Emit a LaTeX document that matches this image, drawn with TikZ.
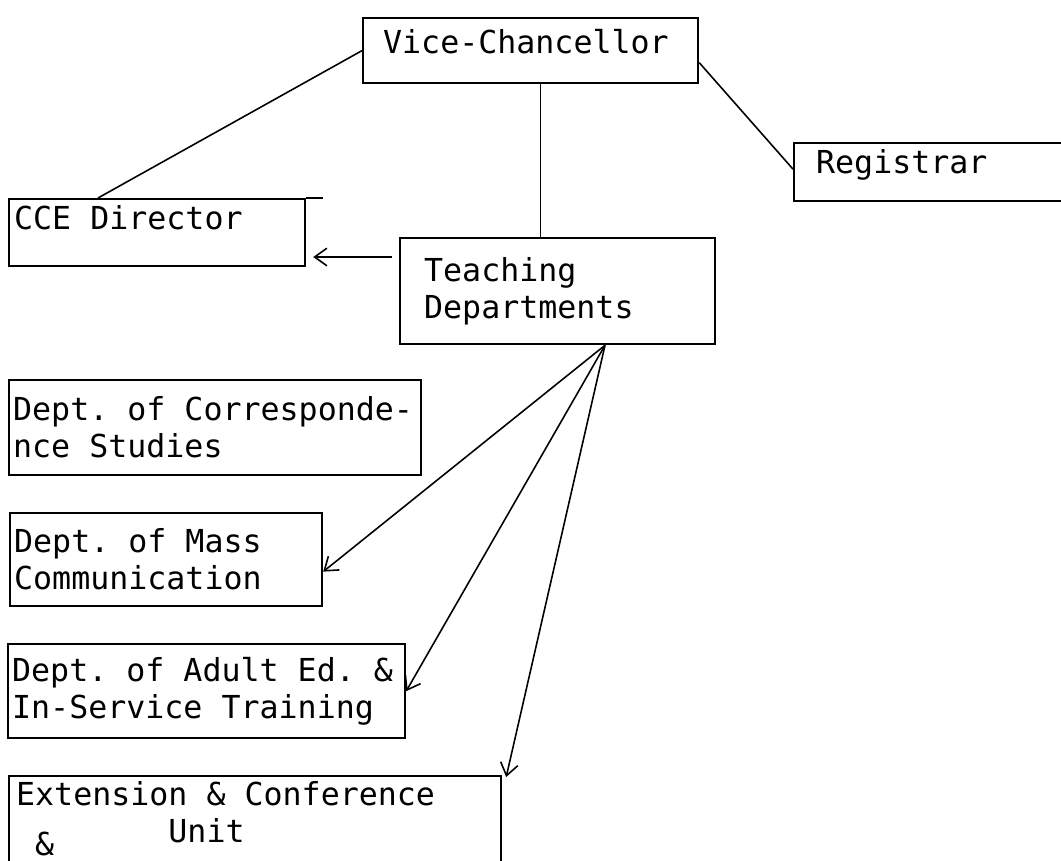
\documentclass[tikz,border=0pt]{standalone}
\usepackage{fontspec}
\setmonofont{DejaVu Sans Mono}
\usepackage{tikz}
\usetikzlibrary{arrows.meta,calc}
\protected\def\unitfont{\ttfamily\fontsize{18}{21}\selectfont}

\begin{document}
\begin{tikzpicture}[x=0.02cm,y=-0.02cm,
		unitbox/.style={draw,line width=1.3pt,anchor=north west,align=flush left,inner ysep=0pt,
			font=\unitfont},
		link/.style={line width=0.9pt},
		flow/.style={line width=0.9pt,-{Straight Barb[length=7pt,width=10pt]}}]
	\useasboundingbox (0,0) rectangle (1061,861);
	\node[unitbox,inner xsep=0.4cm,text width=5.9cm,minimum height=1.3cm,text depth=0.36cm]
		(vc) at (362,17) {Vice-Chancellor};
	\node[unitbox,inner xsep=0.44cm,text width=5.86cm,minimum height=1.16cm,text depth=0.44cm]
		(reg) at (793,142) {Registrar};
	\node[unitbox,inner xsep=0.1cm,text width=5.72cm,minimum height=1.34cm,text depth=0.62cm]
		(cce) at (8,198) {CCE Director};
	\node[unitbox,inner xsep=0.48cm,text width=5.34cm,minimum height=2.12cm]
		(td) at (399,237) {Teaching\\Departments};
	\node[unitbox,inner xsep=0.08cm,text width=8.08cm,minimum height=1.9cm]
		(corr) at (8,379) {Dept. of Corresponde-\\nce Studies};
	\node[unitbox,inner xsep=0.08cm,text width=6.08cm,minimum height=1.86cm]
		(mass) at (9,512) {Dept. of Mass\\Communication};
	\node[unitbox,inner xsep=0.08cm,text width=7.78cm,minimum height=1.88cm]
		(adult) at (7,643) {Dept. of Adult Ed. \&\\In-Service Training};
	\node[unitbox,inner xsep=0.14cm,inner ysep=0.1cm,text width=9.56cm]
		(ext) at (8,775) {Extension \& Conference\\\hphantom{Extensio}Unit\\[-0.46cm]\hphantom{E}\&\rule[-0.4cm]{0pt}{0pt}};
	% top line of the CCE box runs past its corner
	\draw[line width=1.3pt] (cce.north east) -- ++(17,0);
	% lines from the Vice-Chancellor
	\draw[link] (vc.west) -- ($(cce.north west)+(90,0)$);
	\draw[link] ($(vc.east)+(0,12)$) -- ($(reg.west)+(0,-3)$);
	\draw[link] ([xshift=0.2cm]vc.south) -- ([xshift=0.2cm]vc.south |- td.north);
	% arrows from the teaching departments
	\draw[flow] ($(td.north west)+(-7,20)$) coordinate (tdleft) -- ($(cce.east |- tdleft)+(7,0)$);
	\coordinate (fan) at ($(td.south west)+(206,0)$);
	\draw[flow] (fan) -- ([yshift=-0.24cm]mass.east);
	\draw[flow] (fan) -- (adult.east);
	\draw[flow] (fan) -- ($(ext.north east)+(4,2)$);
\end{tikzpicture}
\end{document}
